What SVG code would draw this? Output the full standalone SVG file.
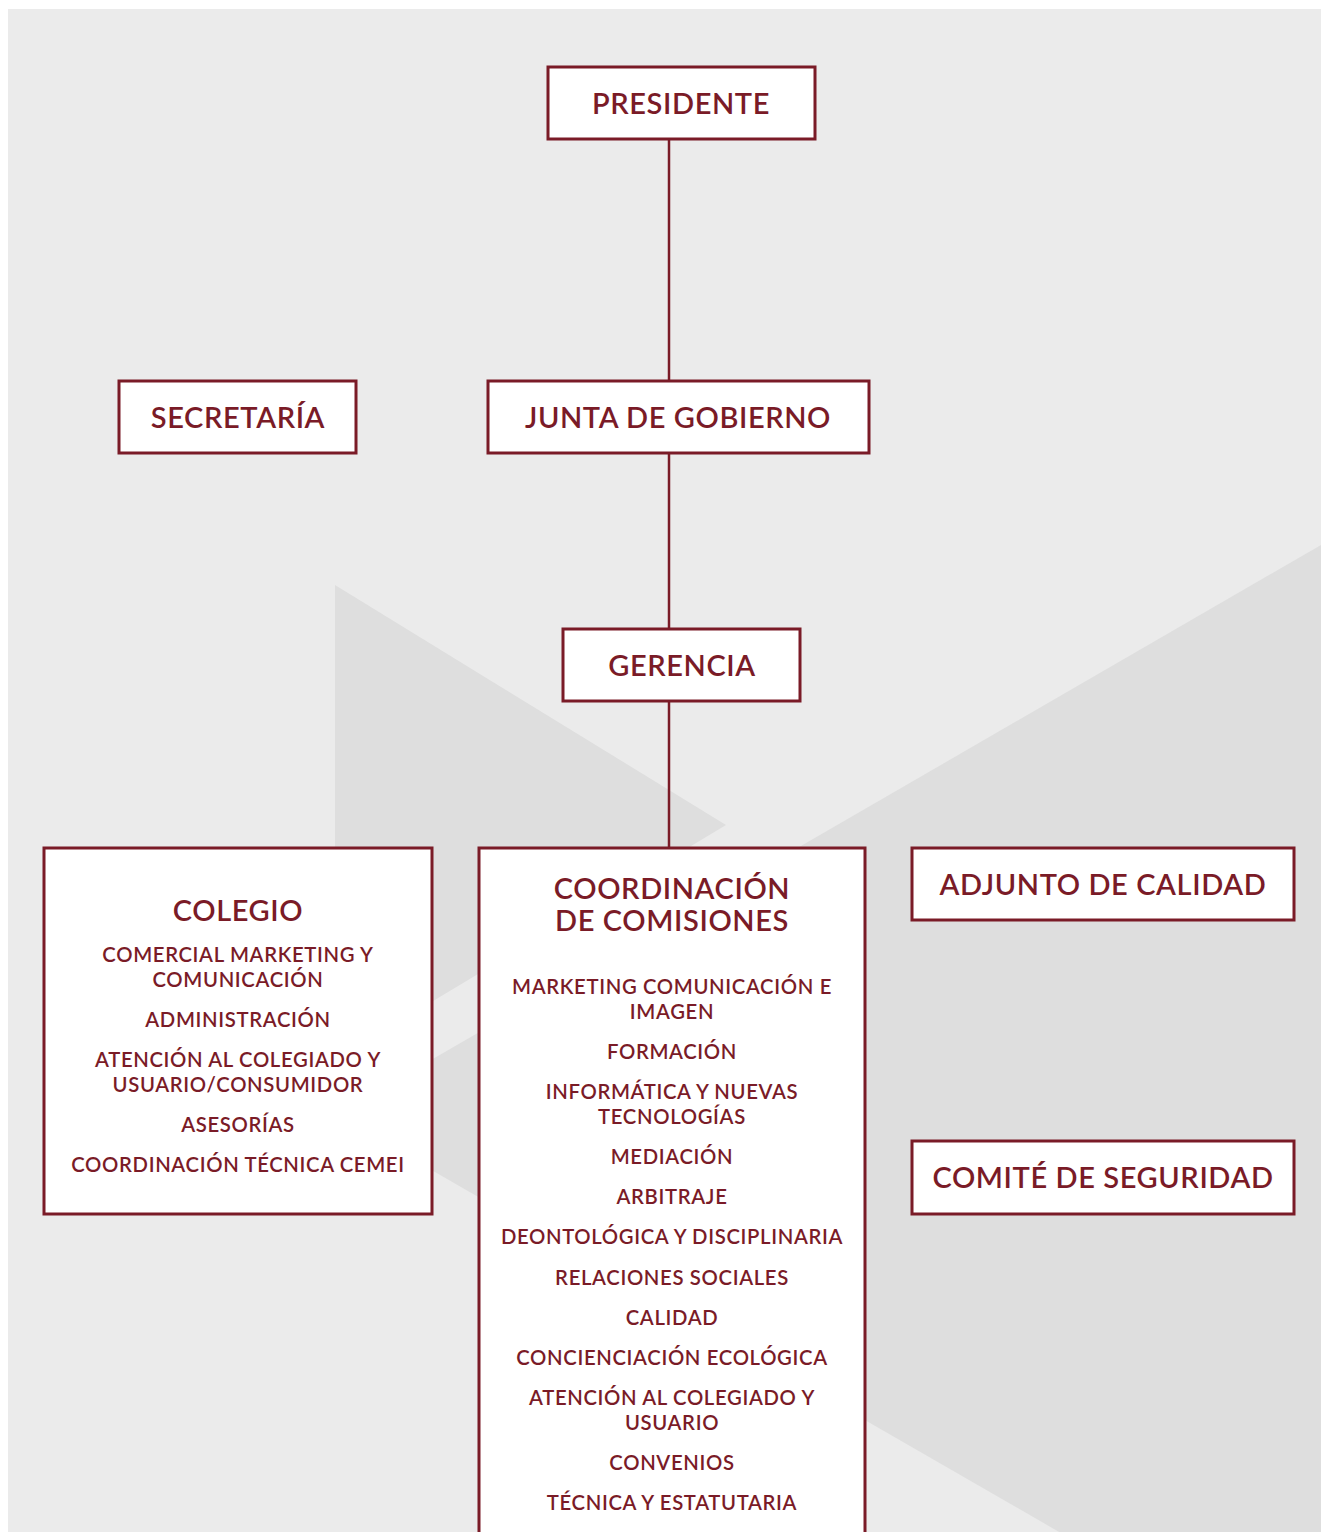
<svg xmlns="http://www.w3.org/2000/svg" width="1321" height="1532" viewBox="0 0 1321 1532">
<defs>
<style>
.box{fill:#ffffff;stroke:#7a1b27;stroke-width:3}
.t{font-family:Lato,"Open Sans","Liberation Sans",sans-serif;font-weight:600;fill:#7a1b27;text-anchor:middle}
.h{font-size:29px;letter-spacing:0.6px}
.i{font-size:20.3px;letter-spacing:0.65px}
.ln{stroke:#7a1b27;stroke-width:2.5;fill:none}
</style>
<clipPath id="bgclip"><rect x="8" y="9" width="1313" height="1523"/></clipPath>
</defs>
<rect x="0" y="0" width="1321" height="1532" fill="#ffffff"/>
<g id="background" clip-path="url(#bgclip)">
<rect x="8" y="9" width="1313" height="1523" fill="#ebebeb"/>
<polygon points="335,585 726,825 335,1060" fill="#dedede"/>
<polygon points="1321,545 336,1115 1321,1683" fill="#dedede"/>
</g>
<g id="connectors">
<line class="ln" x1="669" y1="139" x2="669" y2="381"/>
<line class="ln" x1="669" y1="453" x2="669" y2="629"/>
<line class="ln" x1="669" y1="701" x2="669" y2="848"/>
</g>
<g id="presidente">
<rect class="box" x="548" y="67" width="267" height="72"/>
<text class="t h" x="681" y="114">PRESIDENTE</text>
</g>
<g id="secretaria">
<rect class="box" x="119" y="381" width="237" height="72"/>
<text class="t h" x="238" y="428">SECRETARÍA</text>
</g>
<g id="junta">
<rect class="box" x="488" y="381" width="381" height="72"/>
<text class="t h" x="678" y="428">JUNTA DE GOBIERNO</text>
</g>
<g id="gerencia">
<rect class="box" x="563" y="629" width="237" height="72"/>
<text class="t h" x="682" y="676">GERENCIA</text>
</g>
<g id="colegio">
<rect class="box" x="44" y="848" width="388" height="366"/>
<text class="t h" x="238" y="921">COLEGIO</text>
<text class="t i" x="238" y="962">COMERCIAL MARKETING Y</text>
<text class="t i" x="238" y="987">COMUNICACIÓN</text>
<text class="t i" x="238" y="1027">ADMINISTRACIÓN</text>
<text class="t i" x="238" y="1067">ATENCIÓN AL COLEGIADO Y</text>
<text class="t i" x="238" y="1092">USUARIO/CONSUMIDOR</text>
<text class="t i" x="238" y="1132">ASESORÍAS</text>
<text class="t i" x="238" y="1172">COORDINACIÓN TÉCNICA CEMEI</text>
</g>
<g id="coordinacion">
<rect class="box" x="479" y="848" width="386" height="700"/>
<text class="t h" x="672" y="899">COORDINACIÓN</text>
<text class="t h" x="672" y="931">DE COMISIONES</text>
<text class="t i" x="672" y="994">MARKETING COMUNICACIÓN E</text>
<text class="t i" x="672" y="1019">IMAGEN</text>
<text class="t i" x="672" y="1059">FORMACIÓN</text>
<text class="t i" x="672" y="1099">INFORMÁTICA Y NUEVAS</text>
<text class="t i" x="672" y="1124">TECNOLOGÍAS</text>
<text class="t i" x="672" y="1164">MEDIACIÓN</text>
<text class="t i" x="672" y="1204">ARBITRAJE</text>
<text class="t i" x="672" y="1244">DEONTOLÓGICA Y DISCIPLINARIA</text>
<text class="t i" x="672" y="1285">RELACIONES SOCIALES</text>
<text class="t i" x="672" y="1325">CALIDAD</text>
<text class="t i" x="672" y="1365">CONCIENCIACIÓN ECOLÓGICA</text>
<text class="t i" x="672" y="1405">ATENCIÓN AL COLEGIADO Y</text>
<text class="t i" x="672" y="1430">USUARIO</text>
<text class="t i" x="672" y="1470">CONVENIOS</text>
<text class="t i" x="672" y="1510">TÉCNICA Y ESTATUTARIA</text>
</g>
<g id="adjunto">
<rect class="box" x="912" y="848" width="382" height="72"/>
<text class="t h" x="1103" y="895">ADJUNTO DE CALIDAD</text>
</g>
<g id="comite">
<rect class="box" x="912" y="1141" width="382" height="73"/>
<text class="t h" x="1103" y="1188">COMITÉ DE SEGURIDAD</text>
</g>
</svg>
